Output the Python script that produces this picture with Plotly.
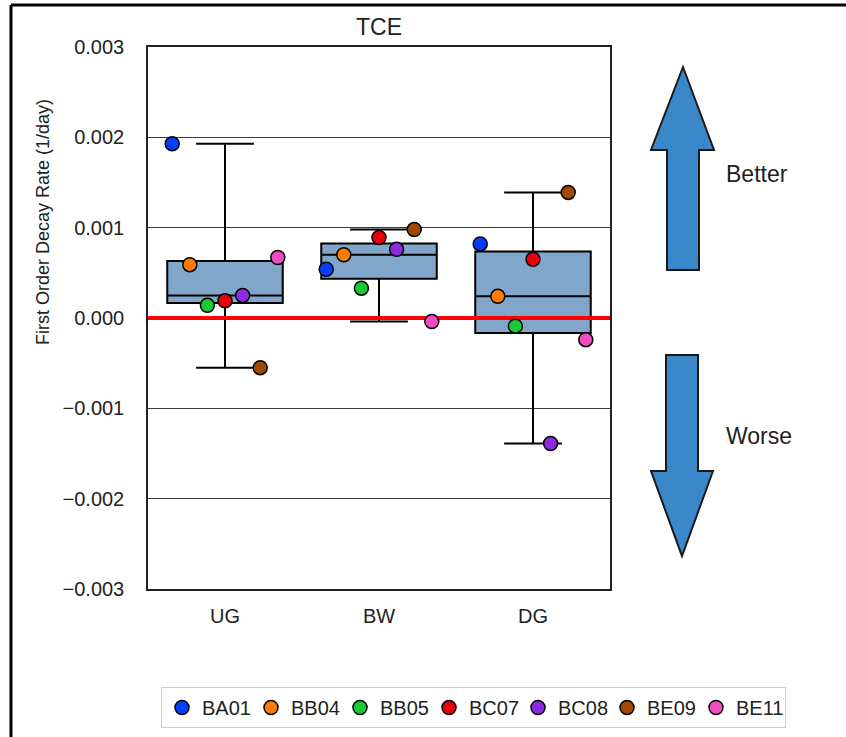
import numpy as np
import plotly.graph_objects as go

# Sites along the flow path and monitoring wells
sites = ["UG", "BW", "DG"]
wells = ["BA01", "BB04", "BB05", "BC07", "BC08", "BE09", "BE11"]
well_colors = ["#023eff", "#ff7c00", "#1ac938", "#e8000b", "#8b2be2", "#9f4800", "#f14cc1"]

# First-order TCE decay rates (1/day), one value per well, in well order
ug_rates = [0.00193, 0.00059, 0.00014, 0.00019, 0.00025, -0.00055, 0.00067]
bw_rates = [0.00054, 0.00070, 0.00033, 0.00089, 0.00076, 0.00098, -0.00004]
dg_rates = [0.00082, 0.00024, -0.00009, 0.00065, -0.00139, 0.00139, -0.00024]

y_ticks = [-0.003, -0.002, -0.001, 0.0, 0.001, 0.002, 0.003]

rates = np.array([ug_rates, bw_rates, dg_rates])
site_pos = np.arange(len(sites))

# Figure geometry (pixels)
W, H = 846, 737
ML, MR, MT, MB = 148, 236, 47, 148
PW, PH = W - ML - MR, H - MT - MB


def px(x):
    return (x - ML) / PW


def py(y):
    return (H - MB - y) / PH


FONT = "Arial, Liberation Sans, sans-serif"
fig = go.Figure()

# Boxes: quartiles with whiskers spanning the full data range
fig.add_trace(go.Box(
    x=site_pos,
    q1=np.percentile(rates, 25, axis=1),
    median=np.percentile(rates, 50, axis=1),
    q3=np.percentile(rates, 75, axis=1),
    lowerfence=rates.min(axis=1),
    upperfence=rates.max(axis=1),
    boxpoints=False,
    width=0.75,
    whiskerwidth=0.5,
    fillcolor="rgb(128,166,201)",
    line=dict(color="black", width=2),
    showlegend=False,
    hoverinfo="skip",
))

# Zero-rate reference line
fig.add_trace(go.Scatter(
    x=[-0.5, 2.5], y=[0, 0], mode="lines",
    line=dict(color="#ff0000", width=4),
    showlegend=False, hoverinfo="skip",
))

# Individual wells, dodged within each site
dodge = 0.8 / len(wells)
for i, (well, color) in enumerate(zip(wells, well_colors)):
    fig.add_trace(go.Scatter(
        x=site_pos + (i - (len(wells) - 1) / 2) * dodge,
        y=rates[:, i],
        mode="markers",
        name=well,
        marker=dict(size=14, color=color, line=dict(color="black", width=1.5)),
    ))

# Better / worse arrows beside the axes
arrow_style = dict(type="path", xref="paper", yref="paper",
                   fillcolor="#3a87c9", line=dict(color="#1a1a1a", width=2),
                   layer="above")
up_pts = [(683, 67), (714, 150), (699, 150), (699, 270), (667, 270), (667, 150), (651, 150)]
down_pts = [(666, 355), (698, 355), (698, 471), (713, 471), (682, 556), (651, 471), (666, 471)]
for pts in (up_pts, down_pts):
    path = "M " + " L ".join(f"{px(a):.5f},{py(b):.5f}" for a, b in pts) + " Z"
    fig.add_shape(path=path, **arrow_style)

# Outer frame lines (left and top)
frame = dict(type="line", xref="paper", yref="paper", line=dict(color="black", width=3))
fig.add_shape(x0=px(11), x1=px(11), y0=py(H + 2), y1=py(5), **frame)
fig.add_shape(x0=px(11), x1=px(W + 2), y0=py(5), y1=py(5), **frame)

annotations = [
    dict(text="TCE", x=px(379), y=py(27), font=dict(size=23)),
    dict(text="Better", x=px(724), y=py(174), xanchor="left", font=dict(size=23)),
    dict(text="Worse", x=px(724), y=py(436), xanchor="left", font=dict(size=23)),
    dict(text="First Order Decay Rate (1/day)", x=px(43), y=py(222),
         textangle=-90, font=dict(size=18)),
]
for a in annotations:
    a.setdefault("xanchor", "center")
    fig.add_annotation(xref="paper", yref="paper", yanchor="middle",
                       showarrow=False, **a)

fig.update_layout(
    width=W, height=H,
    margin=dict(l=ML, r=MR, t=MT, b=MB, autoexpand=False),
    paper_bgcolor="white", plot_bgcolor="white",
    font=dict(family=FONT, size=20, color="#222222"),
    showlegend=True,
    legend=dict(
        orientation="h", xref="paper", yref="paper",
        x=px(786), xanchor="right", y=py(687), yanchor="top",
        bordercolor="#cccccc", borderwidth=1, bgcolor="white",
        font=dict(size=20, color="#222222"),
        entrywidth=44, entrywidthmode="pixels",
    ),
    xaxis=dict(
        range=[-0.5, 2.5], tickvals=site_pos, ticktext=sites,
        showgrid=False, zeroline=False, ticks="",
        showline=True, mirror=True, linecolor="#222222", linewidth=1.5,
        ticklabelstandoff=8,
    ),
    yaxis=dict(
        range=[-0.003, 0.003], tickvals=y_ticks, tickformat=".3f",
        showgrid=True, gridcolor="#3a3a3a", gridwidth=1, zeroline=False, ticks="",
        showline=True, mirror=True, linecolor="#222222", linewidth=1.5,
        ticklabelstandoff=18,
    ),
)

fig.write_html("out.html")
